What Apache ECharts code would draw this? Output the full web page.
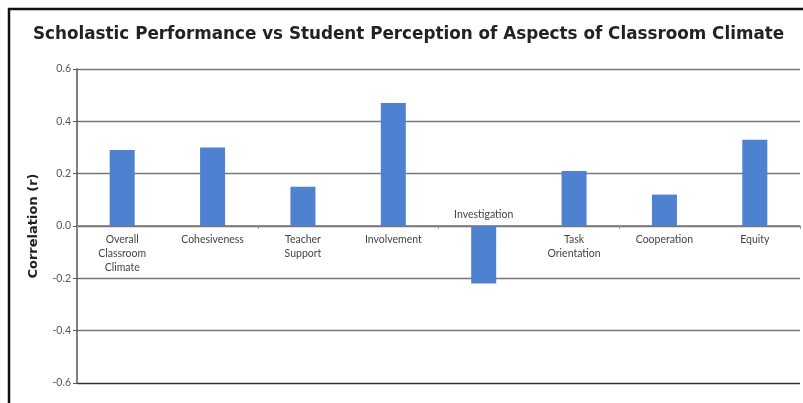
<!DOCTYPE html>
<html>
<head>
<meta charset="utf-8">
<script src="https://cdn.jsdelivr.net/npm/echarts@6/dist/echarts.min.js"></script>
<style>
    html, body { margin: 0; padding: 0; background: #fff; }
    #chart { width: 803px; height: 403px; }
</style>
</head>
<body>
<div id="chart"></div>
<script>
    // categories & values
    let categories = ['Overall\nClassroom\nClimate', 'Cohesiveness', 'Teacher\nSupport', 'Involvement',
        'Investigation', 'Task\nOrientation', 'Cooperation', 'Equity'];
    let correlations = [0.29, 0.30, 0.15, 0.47, -0.22, 0.21, 0.12, 0.33];
    let yTicks = [-0.6, -0.4, -0.2, 0.0, 0.2, 0.4, 0.6];

    let myChart = echarts.init(document.getElementById('chart'));

    // category names sit on the zero line: below for positive bars, above for negative ones
    let barData = correlations.map((v, i) => ({
        value: v,
        label: {
            show: true,
            formatter: categories[i],
            position: v < 0 ? 'top' : 'bottom',
            distance: v < 0 ? 4 : 7
        }
    }));

    let option = {
        backgroundColor: '#fff',
        animation: false,
        title: {
            text: 'Scholastic Performance vs Student Perception of Aspects of Classroom Climate',
            left: 28,
            top: 21,
            textStyle: {
                fontSize: 16.8,
                fontWeight: 'bold',
                fontFamily: 'DejaVu Sans',
                color: '#222'
            }
        },
        graphic: [{
            type: 'polyline',
            shape: {points: [[9, 403], [9, 9], [803, 9]]},
            style: {stroke: '#111', lineWidth: 2.5, fill: null}
        }],
        grid: {
            left: 77,
            right: 3,
            top: 69,
            bottom: 20,
            containLabel: false,
            outerBoundsMode: 'none'
        },
        xAxis: {
            type: 'category',
            data: categories,
            axisLine: {onZero: true, lineStyle: {color: '#777', width: 1.5}},
            axisTick: {show: true, length: 3, lineStyle: {color: '#999'}},
            axisLabel: {show: false},
            splitLine: {show: false}
        },
        yAxis: {
            type: 'value',
            min: yTicks[0],
            max: yTicks[yTicks.length - 1],
            interval: 0.2,
            name: 'Correlation (r)',
            nameLocation: 'middle',
            nameGap: 37,
            nameTextStyle: {
                fontSize: 13,
                fontWeight: 'bold',
                fontFamily: 'DejaVu Sans',
                color: '#222'
            },
            axisLine: {show: true, lineStyle: {color: '#555', width: 1.5}},
            axisTick: {show: true, length: 4, lineStyle: {color: '#555'}},
            axisLabel: {
                formatter: (v) => v.toFixed(1),
                fontSize: 10.5,
                color: '#555',
                fontFamily: 'Lato',
                margin: 6
            },
            splitLine: {
                show: true,
                lineStyle: {color: ['#333', '#777', '#777', '#777', '#777', '#777', '#777'], width: 1.3}
            }
        },
        series: [{
            type: 'bar',
            data: barData,
            barWidth: 25,
            itemStyle: {color: '#4f81d1'},
            label: {
                fontSize: 10.5,
                lineHeight: 14,
                color: '#444',
                fontFamily: 'Lato',
                align: 'center'
            }
        }]
    };
    myChart.setOption(option);
</script>
</body>
</html>
